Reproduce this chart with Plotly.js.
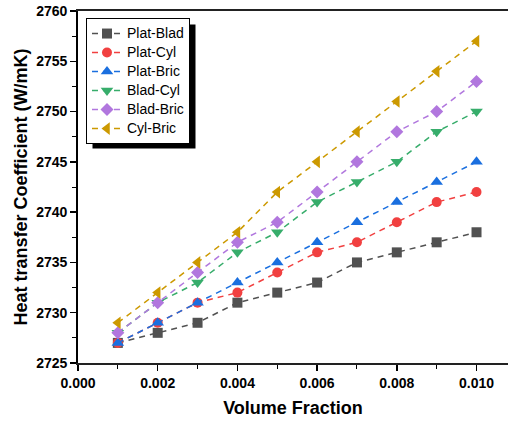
<!DOCTYPE html>
<html>
<head>
<meta charset="utf-8">
<script src="https://cdn.plot.ly/plotly-3.0.1.min.js"></script>
<style>html,body{margin:0;padding:0;background:#fff;}#chart{width:508px;height:423px;}</style>
</head>
<body>
<div id="chart"></div>
<script>
var volumeFraction = [0.001, 0.002, 0.003, 0.004, 0.005, 0.006, 0.007, 0.008, 0.009, 0.010];
var platBlad = [2727, 2728, 2729, 2731, 2732, 2733, 2735, 2736, 2737, 2738];
var platCyl  = [2727, 2729, 2731, 2732, 2734, 2736, 2737, 2739, 2741, 2742];
var platBric = [2727, 2729, 2731, 2733, 2735, 2737, 2739, 2741, 2743, 2745];
var bladCyl  = [2728, 2731, 2733, 2736, 2738, 2741, 2743, 2745, 2748, 2750];
var bladBric = [2728, 2731, 2734, 2737, 2739, 2742, 2745, 2748, 2750, 2753];
var cylBric  = [2729, 2732, 2735, 2738, 2742, 2745, 2748, 2751, 2754, 2757];
var seriesNames = ["Plat-Blad", "Plat-Cyl", "Plat-Bric", "Blad-Cyl", "Blad-Bric", "Cyl-Bric"];
var xTickVals = [0, 0.002, 0.004, 0.006, 0.008, 0.010];
var xTickText = ["0.000", "0.002", "0.004", "0.006", "0.008", "0.010"];
var yTickVals = [2725, 2730, 2735, 2740, 2745, 2750, 2755, 2760];

var seriesValues = [platBlad, platCyl, platBric, bladCyl, bladBric, cylBric];
var colors = ["#515151", "#F14040", "#1A6FDF", "#37AD6B", "#B177DE", "#CC9900"];
var symbols = ["square", "circle", "triangle-up", "triangle-down", "diamond", "triangle-left"];
var sizes = [10, 10, 11, 11, 10, 11];

var traces = seriesValues.map(function (vals, i) {
  return {
    x: volumeFraction, y: vals, type: "scatter", mode: "lines+markers",
    name: "<span style='font-size:14px'>" + seriesNames[i] + "</span>",
    line: {color: colors[i], width: 1.5, dash: "6px,5px"},
    marker: {color: colors[i], symbol: symbols[i], size: sizes[i]}
  };
});

var font = "Liberation Sans, Arial, sans-serif";
var L = 78, T = 11, PW = 430, PH = 352;
var layout = {
  width: 508, height: 423,
  margin: {l: L, r: 0, t: T, b: 60},
  paper_bgcolor: "#fff", plot_bgcolor: "#fff",
  font: {family: font, color: "#000"},
  showlegend: true,
  legend: {x: 0.0186, y: 0.98, xanchor: "left", yanchor: "top",
    bgcolor: "#fff", bordercolor: "#000", borderwidth: 1,
    font: {family: font, size: 12, color: "#000"}, tracegroupgap: 0},
  xaxis: {
    range: [0, 0.01079], tickvals: xTickVals, ticktext: xTickText,
    showgrid: false, zeroline: false, showline: true, linecolor: "#222", linewidth: 1.8, mirror: true,
    ticks: "outside", ticklen: 6, tickwidth: 1.5, tickcolor: "#000",
    minor: {dtick: 0.001, tick0: 0, ticks: "outside", ticklen: 4, tickwidth: 1, tickcolor: "#000", showgrid: false},
    tickfont: {family: font, size: 14, color: "#000", weight: "bold"},
    title: {text: "<b>Volume Fraction</b>", font: {family: font, size: 18, color: "#000"}, standoff: 12}
  },
  yaxis: {
    range: [2725, 2760], tickvals: yTickVals,
    showgrid: false, zeroline: false, showline: true, linecolor: "#000", linewidth: 1.8,
    ticks: "outside", ticklen: 6, tickwidth: 1.5, tickcolor: "#000",
    minor: {dtick: 2.5, tick0: 2725, ticks: "outside", ticklen: 4, tickwidth: 1, tickcolor: "#000", showgrid: false},
    tickfont: {family: font, size: 14, color: "#000", weight: "bold"},
    title: {text: "<b>Heat transfer Coefficient (W/mK)</b>", font: {family: font, size: 18, color: "#000"}, standoff: 4}
  }
};

var gd = document.getElementById("chart");
Plotly.newPlot(gd, traces, layout, {displayModeBar: false, staticPlot: true}).then(function () {
  var bg = gd.querySelector(".legend .bg");
  if (!bg) return;
  var r = bg.getBoundingClientRect(), c = gd.getBoundingClientRect();
  var left = r.left - c.left, top = r.top - c.top, right = r.right - c.left, bottom = r.bottom - c.top;
  var off = 6;
  return Plotly.relayout(gd, {shapes: [{type: "rect", xref: "paper", yref: "paper", layer: "above",
    x0: (left + off - L) / PW, x1: (right + off - L) / PW,
    y0: (T + PH - (bottom + off - 1)) / PH, y1: (T + PH - (top + off)) / PH,
    fillcolor: "#000", line: {width: 0}}]});
});
</script>
</body>
</html>
